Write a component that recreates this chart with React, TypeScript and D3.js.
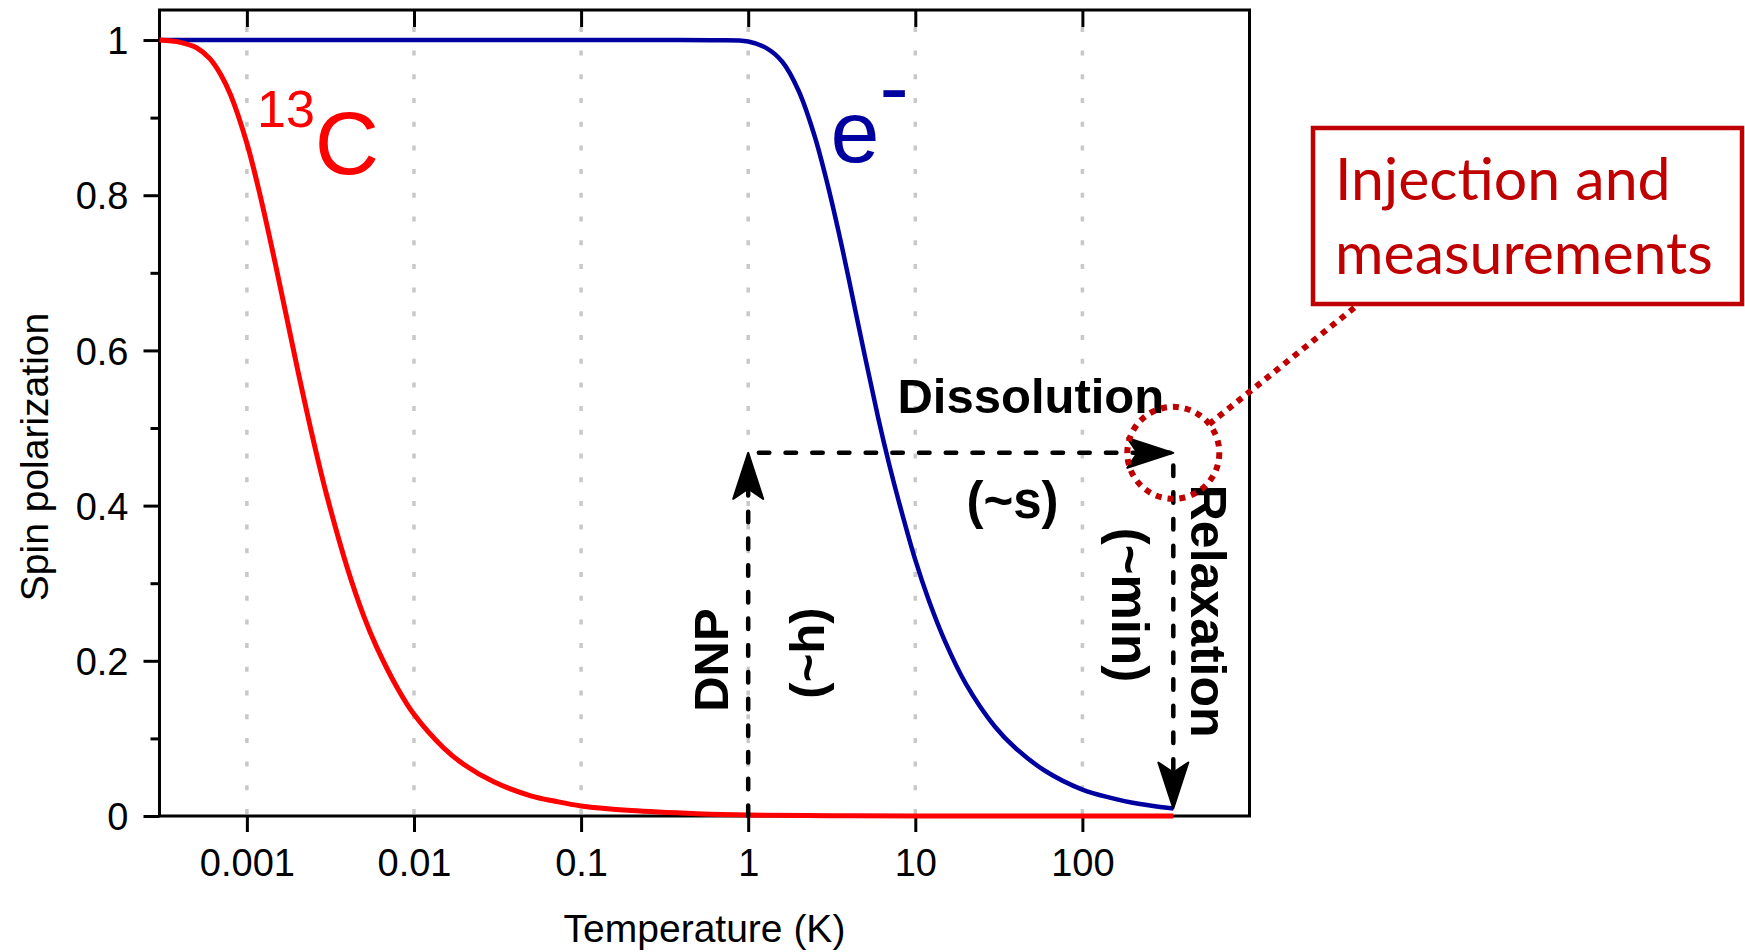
import React, { useEffect, useRef } from "react"
import * as d3 from "d3"

const width = 1745
const height = 952

// 13C spin polarization
const carbonTemp = [0.0003, 0.0004, 0.0005, 0.0006, 0.0007, 0.0008, 0.001, 0.0012, 0.0015, 0.002, 0.0025, 0.003, 0.004, 0.005, 0.006, 0.008, 0.01, 0.015, 0.02, 0.03, 0.05, 0.07, 0.1, 0.2, 0.5, 1, 3, 10, 100, 350]
const carbonPol = [1.0, 0.997, 0.99, 0.976, 0.955, 0.929, 0.867, 0.8, 0.706, 0.578, 0.484, 0.414, 0.319, 0.258, 0.217, 0.164, 0.131, 0.088, 0.066, 0.044, 0.026, 0.019, 0.013, 0.007, 0.003, 0.0013, 0.0004, 0.0001, 0, 0]

// electron spin polarization
const electronTemp = [0.0003, 0.01, 0.3, 0.6, 1, 1.3, 1.6, 2, 2.5, 3, 3.5, 4, 5, 6, 7, 8, 10, 12, 15, 20, 30, 40, 60, 100, 150, 200, 300, 350]
const electronPol = [1, 1, 1, 0.9997, 0.998, 0.989, 0.972, 0.935, 0.876, 0.812, 0.75, 0.692, 0.592, 0.513, 0.452, 0.404, 0.33, 0.279, 0.226, 0.171, 0.115, 0.087, 0.058, 0.034, 0.023, 0.017, 0.0113, 0.0097]

// DNP -> dissolution -> relaxation cycle
const cycleTemp = [1, 1, 350, 350]
const cyclePol = [0, 0.468, 0.468, 0.0097]

const xTicks = [0.001, 0.01, 0.1, 1, 10, 100]
const xTickLabels = ["0.001", "0.01", "0.1", "1", "10", "100"]
const yTicks = [0, 0.2, 0.4, 0.6, 0.8, 1]
const yTickLabels = ["0", "0.2", "0.4", "0.6", "0.8", "1"]
const yMinorTicks = [0.1, 0.3, 0.5, 0.7, 0.9]

// annotation texts anchored in data units
const noteText = ["Dissolution", "(~s)", "DNP", "(~h)", "(~min)", "Relaxation"]
const noteTemp = [7.82, 38.2, 0.761, 2.86, 150, 444]
const notePol = [0.519, 0.384, 0.201, 0.21, 0.272, 0.264]
const noteAngle = [0, 0, -90, -90, 90, 90]
const noteSize = [49, 51, 49, 49, 51, 50]

const App = () => {
    const ref = useRef<SVGGElement>(null)

    useEffect(() => {
        const g = d3.select(ref.current)
        g.selectAll("*").remove()

        const font = "'Liberation Sans', Arial, sans-serif"
        const darkRed = "#c00000"

        const x = d3.scaleLog().domain([0.0003, 1000]).range([159.5, 1249.5])
        const y = d3.scaleLinear().domain([0, 1.0387]).range([816, 10])

        // dotted grid at each decade
        g.append("g")
            .selectAll("line")
            .data(xTicks)
            .join("line")
            .attr("x1", d => x(d))
            .attr("x2", d => x(d))
            .attr("y1", y(0) - 2)
            .attr("y2", 10)
            .attr("stroke", "#c8c8c8")
            .attr("stroke-width", 3.5)
            .attr("stroke-dasharray", "5 18.7")

        const styleAxis = (sel: any) => {
            sel.selectAll(".domain").remove()
            sel.selectAll(".tick line").attr("stroke", "#000").attr("stroke-width", 3)
            sel.selectAll(".tick text")
                .attr("font-size", 38)
                .attr("font-family", font)
                .attr("fill", "#000")
        }

        const xAxisG = g.append("g")
            .attr("transform", `translate(0,${y(0)})`)
            .call(d3.axisBottom(x).tickValues(xTicks)
                .tickFormat((d, i) => xTickLabels[i])
                .tickSize(16)
                .tickPadding(17))
        styleAxis(xAxisG)

        const topAxisG = g.append("g")
            .attr("transform", `translate(0,10)`)
            .call(d3.axisTop(x).tickValues(xTicks).tickFormat(() => "").tickSize(-17))
        styleAxis(topAxisG)

        const yAxisG = g.append("g")
            .attr("transform", `translate(${x.range()[0]},0)`)
            .call(d3.axisLeft(y).tickValues(yTicks)
                .tickFormat((d, i) => yTickLabels[i])
                .tickSize(16)
                .tickPadding(15))
        styleAxis(yAxisG)
        yAxisG.selectAll(".tick text").attr("dy", "0.36em")

        const yMinorG = g.append("g")
            .attr("transform", `translate(${x.range()[0]},0)`)
            .call(d3.axisLeft(y).tickValues(yMinorTicks).tickFormat(() => "").tickSize(9))
        styleAxis(yMinorG)

        // frame
        g.append("rect")
            .attr("x", x.range()[0])
            .attr("y", 10)
            .attr("width", x.range()[1] - x.range()[0])
            .attr("height", y(0) - 10)
            .attr("fill", "none")
            .attr("stroke", "#000")
            .attr("stroke-width", 3)

        // axis titles
        g.append("text")
            .attr("x", (x.range()[0] + x.range()[1]) / 2)
            .attr("y", 942)
            .attr("text-anchor", "middle")
            .attr("font-family", font)
            .attr("font-size", 39)
            .text("Temperature (K)")

        g.append("text")
            .attr("transform", `translate(48,457) rotate(-90)`)
            .attr("text-anchor", "middle")
            .attr("font-family", font)
            .attr("font-size", 39)
            .text("Spin polarization")

        // curves
        const line = d3.line<[number, number]>()
            .x(d => x(d[0]))
            .y(d => y(d[1]))
            .curve(d3.curveCatmullRom.alpha(0.5))

        g.append("path")
            .datum(electronTemp.map((t, i) => [t, electronPol[i]] as [number, number]))
            .attr("d", line)
            .attr("fill", "none")
            .attr("stroke", "#0000a0")
            .attr("stroke-width", 4.5)

        g.append("path")
            .datum(carbonTemp.map((t, i) => [t, carbonPol[i]] as [number, number]))
            .attr("d", line)
            .attr("fill", "none")
            .attr("stroke", "#ff0000")
            .attr("stroke-width", 5)

        // curve labels
        const cLabel = g.append("text")
            .attr("x", x(0.00115))
            .attr("y", y(0.827))
            .attr("font-family", font)
            .attr("fill", "#ff0000")
        cLabel.append("tspan").attr("font-size", 52).attr("dy", -47).text("13")
        cLabel.append("tspan").attr("font-size", 89).attr("dy", 47).text("C")

        const eLabel = g.append("text")
            .attr("x", x(3.11))
            .attr("y", y(0.843))
            .attr("font-family", font)
            .attr("font-size", 88)
            .attr("fill", "#0000a0")
        eLabel.append("tspan").text("e")
        eLabel.append("tspan").attr("dy", -45).text("-")

        // cycle arrows
        const cycle = cycleTemp.map((t, i) => [x(t), y(cyclePol[i])] as [number, number])
        g.append("path")
            .attr("d", d3.line()(cycle))
            .attr("fill", "none")
            .attr("stroke", "#000")
            .attr("stroke-width", 4.5)
            .attr("stroke-linecap", "round")
            .attr("stroke-dasharray", "10.5 16.2")

        const headLen = 46
        const headW = 15
        for (let i = 1; i < cycle.length; i++) {
            const [x0, y0] = cycle[i - 1]
            const [x1, y1] = cycle[i]
            const angle = Math.atan2(y1 - y0, x1 - x0) * 180 / Math.PI
            g.append("path")
                .attr("d", `M0,0 L${-headLen},${-headW} L${-headLen * 0.78},0 L${-headLen},${headW} Z`)
                .attr("transform", `translate(${x1},${y1}) rotate(${angle})`)
                .attr("fill", "#000")
                .attr("stroke", "#000")
                .attr("stroke-width", 2)
                .attr("stroke-linejoin", "round")
        }

        // annotation texts
        noteText.forEach((txt, i) => {
            g.append("text")
                .attr("transform", `translate(${x(noteTemp[i])},${y(notePol[i])}) rotate(${noteAngle[i]})`)
                .attr("text-anchor", i === 0 ? "start" : "middle")
                .attr("font-family", font)
                .attr("font-weight", "bold")
                .attr("font-size", noteSize[i])
                .attr("fill", "#000")
                .text(txt)
        })

        // injection marker and callout
        const cx = x(cycleTemp[2])
        const cy = y(cyclePol[2])
        const r = 46
        g.append("circle")
            .attr("cx", cx)
            .attr("cy", cy)
            .attr("r", r)
            .attr("fill", "none")
            .attr("stroke", darkRed)
            .attr("stroke-width", 6)
            .attr("stroke-dasharray", "6 6")

        const boxX = 1313, boxY = 128, boxW = 429, boxH = 176
        const endX = 1359, endY = boxY + boxH
        const len = Math.hypot(endX - cx, endY - cy)
        g.append("line")
            .attr("x1", cx + (endX - cx) / len * r)
            .attr("y1", cy + (endY - cy) / len * r)
            .attr("x2", endX)
            .attr("y2", endY)
            .attr("stroke", darkRed)
            .attr("stroke-width", 6)
            .attr("stroke-dasharray", "6 6")

        g.append("rect")
            .attr("x", boxX)
            .attr("y", boxY)
            .attr("width", boxW)
            .attr("height", boxH)
            .attr("fill", "none")
            .attr("stroke", darkRed)
            .attr("stroke-width", 4.5)

        const boxText = g.append("text")
            .attr("font-family", "Lato, 'Open Sans', sans-serif")
            .attr("font-size", 59)
            .attr("fill", darkRed)
        boxText.append("tspan").attr("x", 1335).attr("y", 200).text("Injection and")
        boxText.append("tspan").attr("x", 1335).attr("y", 274).text("measurements")
    }, [])

    return (
        <svg width={width} height={height} style={{ position: "absolute", left: 0, top: 0, background: "#fff" }}>
            <g ref={ref} />
        </svg>
    )
}

export default App
